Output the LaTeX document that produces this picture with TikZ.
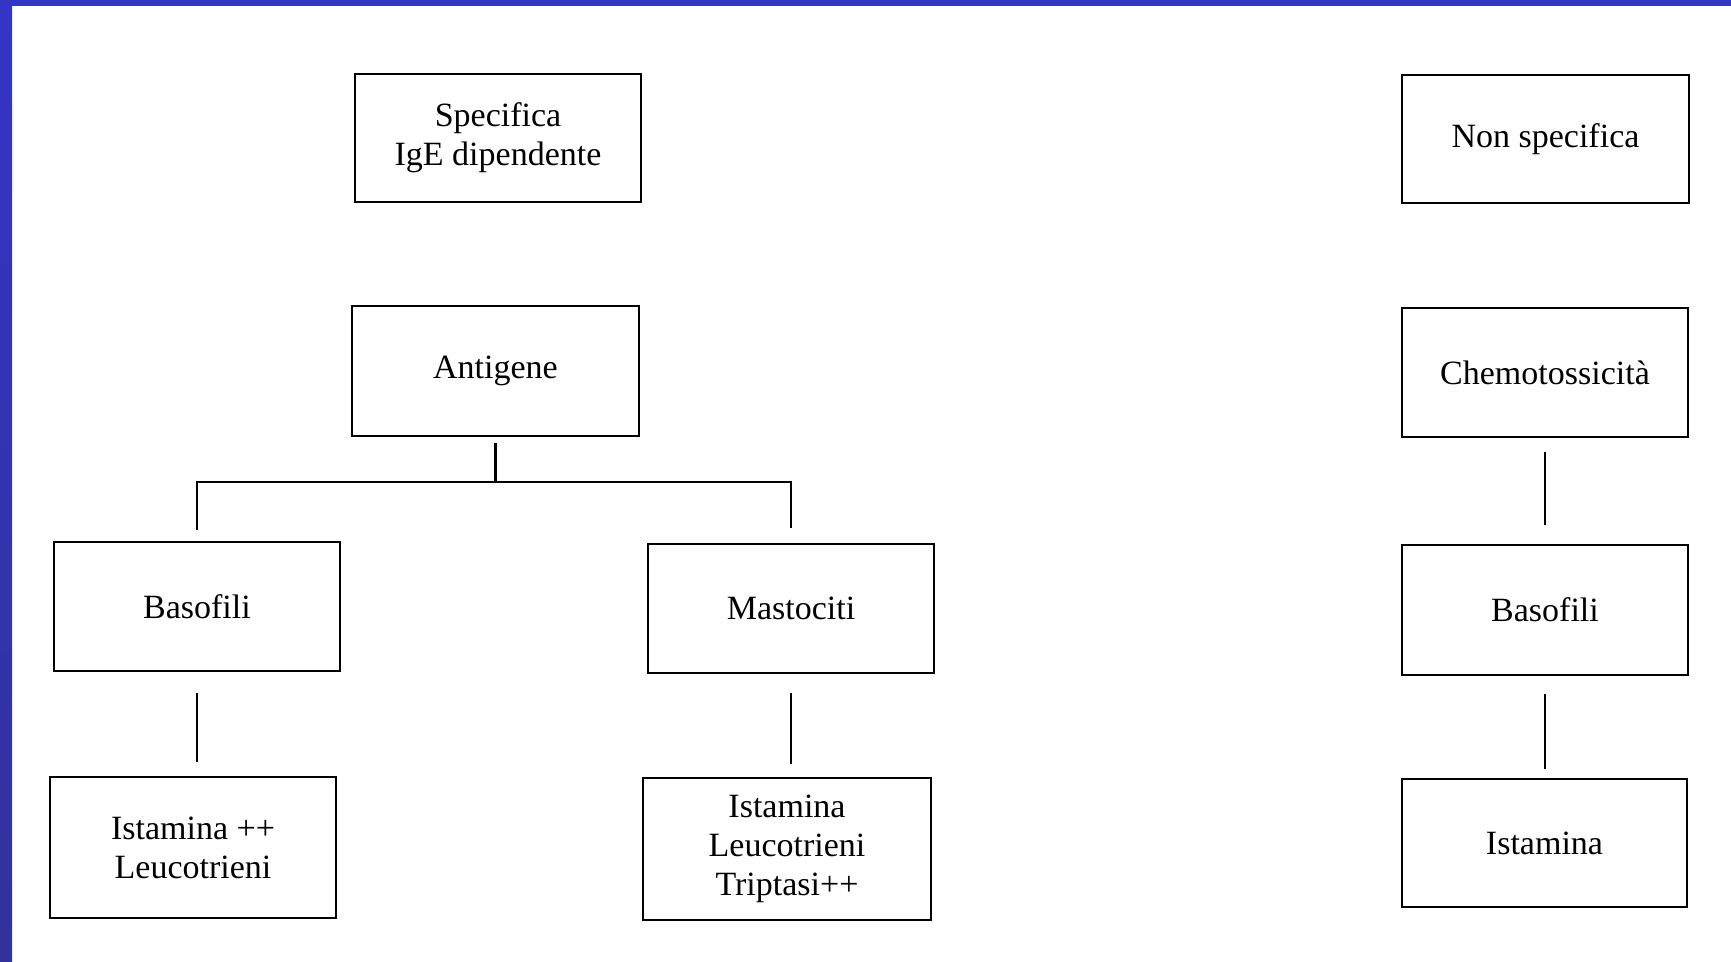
\documentclass[tikz,border=0pt]{standalone}
\usepackage{fontspec}
\setmainfont{Liberation Serif}
\definecolor{frameblue}{RGB}{52,52,198}
\definecolor{frameblueb}{RGB}{50,50,156}
\begin{document}
\begin{tikzpicture}[x=0.5pt,y=-0.5pt,
  box/.style={draw=black,line width=1.1pt,rectangle,inner sep=0pt,outer sep=0pt,
    align=center,font=\fontsize{17pt}{19.5pt}\selectfont},
  link/.style={draw=black,line width=1.1pt}]
  % page and frame
  \fill[white] (0,0) rectangle (1731,962);
  \useasboundingbox (0,0) rectangle (1731,962);
  \shade[top color=frameblue,bottom color=frameblueb] (0,0) rectangle (12,962);
  \fill[frameblue] (0,0) rectangle (1731,6);

  % left tree: specific reaction
  \node[box,minimum width=143pt,minimum height=64pt] (spec) at (498,138) {Specifica\\IgE dipendente};
  \node[box,minimum width=143.5pt,minimum height=65pt] (anti) at (495.5,371) {Antigene};
  \node[box,minimum width=143pt,minimum height=64.5pt] (baso1) at (197,606.5) {Basofili};
  \node[box,minimum width=143pt,minimum height=64.5pt] (masto) at (791,608.5) {Mastociti};
  \node[box,minimum width=143pt,minimum height=70.5pt] (ist1) at (193,847.5) {Istamina ++\\Leucotrieni};
  \node[box,minimum width=144pt,minimum height=71pt] (ist2) at (787,849) {Istamina\\Leucotrieni\\Triptasi++};

  % right column: non specific reaction
  \node[box,minimum width=143.5pt,minimum height=64pt] (nonspec) at (1545.5,139) {Non specifica};
  \node[box,minimum width=143pt,minimum height=64.5pt] (chemo) at (1545,372.5) {Chemotossicità};
  \node[box,minimum width=143pt,minimum height=65pt] (baso2) at (1545,610) {Basofili};
  \node[box,minimum width=142.5pt,minimum height=64pt] (ist3) at (1544.5,843) {Istamina};

  % branching from the antigen
  \coordinate (bus) at (anti.south |- 0,482);
  \draw[link,shorten <=3.5pt] (anti.south) -- (bus);
  \draw[link,shorten >=6pt] (bus) -| (baso1.north);
  \draw[link,shorten >=8pt] (bus) -| (masto.north);

  % vertical links
  \draw[link,shorten <=11pt,shorten >=7.5pt] (baso1.south) -- (ist1.north -| baso1.south);
  \draw[link,shorten <=10pt,shorten >=7pt] (masto.south) -- (ist2.north -| masto.south);
  \draw[link,shorten <=7.5pt,shorten >=10pt] (chemo.south) -- (baso2.north);
  \draw[link,shorten <=9.5pt,shorten >=5pt] (baso2.south) -- (ist3.north -| baso2.south);
\end{tikzpicture}
\end{document}
